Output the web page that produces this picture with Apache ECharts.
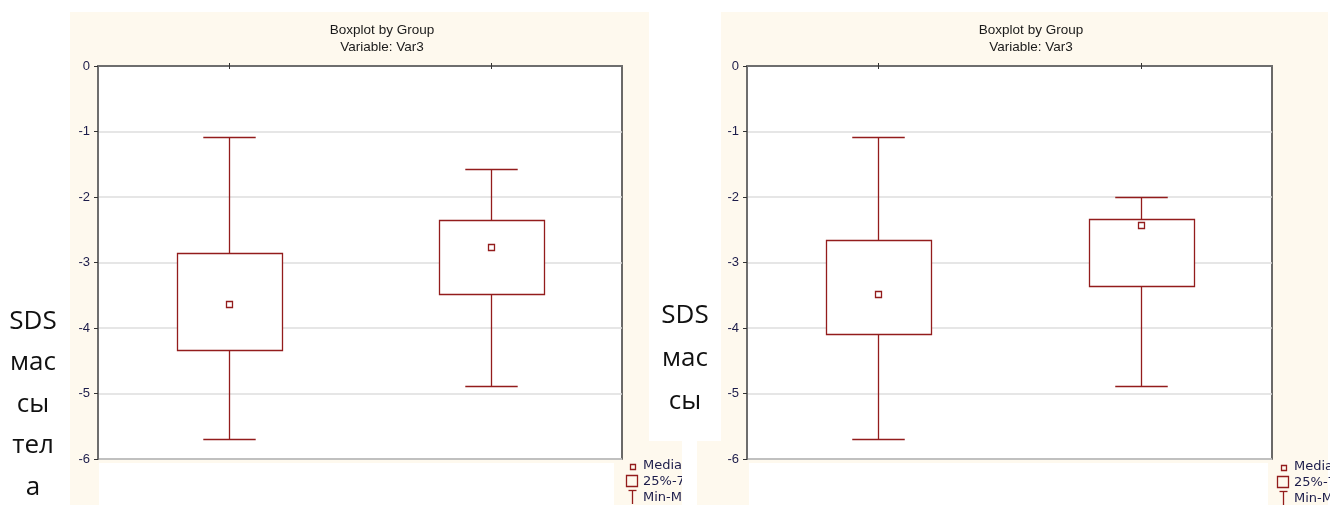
<!DOCTYPE html>
<html>
<head>
<meta charset="utf-8">
<script src="https://cdn.jsdelivr.net/npm/echarts@6/dist/echarts.min.js"></script>
<style>
  html, body { margin: 0; padding: 0; background: #ffffff; }
  #chart { width: 1330px; height: 505px; }
</style>
</head>
<body>
<div id="chart"></div>
<script>
// Groups on the x axis
const categories = ['1', '2'];

// Left panel: min, 25%, median, 75%, max per group
const leftMin = [-5.69, -4.89];
const leftQ1  = [-4.33, -3.48];
const leftMed = [-3.64, -2.77];
const leftQ3  = [-2.85, -2.35];
const leftMax = [-1.09, -1.57];

// Right panel: min, 25%, median, 75%, max per group
const rightMin = [-5.69, -4.89];
const rightQ1  = [-4.08, -3.35];
const rightMed = [-3.48, -2.42];
const rightQ3  = [-2.65, -2.33];
const rightMax = [-1.09, -2.00];

// Y axis ticks
const yTicks = [0, -1, -2, -3, -4, -5, -6];

const titleLines = ['Boxplot by Group', 'Variable: Var3'];
const legendLabels = ['Median', '25%-75%', 'Min-Max'];
const leftSideLabel = ['SDS', 'мас', 'сы', 'тел', 'а'];
const rightSideLabel = ['SDS', 'мас', 'сы'];

const RED = '#931c1c';
const CREAM = '#fef9ee';
const INK = '#1c1c4a';

function rows(mins, q1s, meds, q3s, maxs) {
  return categories.map((c, i) => [i, mins[i], q1s[i], meds[i], q3s[i], maxs[i]]);
}

// Box, whiskers with short caps, and a small square for the median
function renderBox(params, api) {
  const x = api.value(0);
  const pMin = api.coord([x, api.value(1)]);
  const pQ1 = api.coord([x, api.value(2)]);
  const pMed = api.coord([x, api.value(3)]);
  const pQ3 = api.coord([x, api.value(4)]);
  const pMax = api.coord([x, api.value(5)]);
  const band = api.size([1, 0])[0];
  const bw = band * 0.4;
  const cw = band * 0.2;
  const cx = Math.round(pMed[0]) + 0.5;
  const st = { stroke: RED, lineWidth: 1.3, fill: null };
  const r = v => Math.round(v) + 0.5;
  return {
    type: 'group',
    children: [
      { type: 'line', shape: { x1: cx, y1: r(pQ3[1]), x2: cx, y2: r(pMax[1]) }, style: st },
      { type: 'line', shape: { x1: cx - cw / 2, y1: r(pMax[1]), x2: cx + cw / 2, y2: r(pMax[1]) }, style: st },
      { type: 'line', shape: { x1: cx, y1: r(pQ1[1]), x2: cx, y2: r(pMin[1]) }, style: st },
      { type: 'line', shape: { x1: cx - cw / 2, y1: r(pMin[1]), x2: cx + cw / 2, y2: r(pMin[1]) }, style: st },
      { type: 'rect', shape: { x: r(cx - bw / 2), y: r(pQ3[1]), width: Math.round(bw), height: Math.round(pQ1[1] - pQ3[1]) },
        style: { stroke: RED, lineWidth: 1.3, fill: '#ffffff' } },
      { type: 'rect', shape: { x: cx - 3, y: r(pMed[1]) - 3, width: 6, height: 6 },
        style: { stroke: RED, lineWidth: 1.3, fill: '#ffffff' } }
    ]
  };
}

function xAxes(gridIndex) {
  const common = {
    type: 'category', data: categories, gridIndex: gridIndex, boundaryGap: true,
    axisLabel: { show: false },
    axisTick: { show: true, inside: true, length: 3, alignWithLabel: true, lineStyle: { color: '#333', width: 1 } },
    splitLine: { show: false }
  };
  return [
    Object.assign({}, common, { position: 'bottom', axisLine: { show: true, lineStyle: { color: '#6e6e6e', width: 2 } } }),
    Object.assign({}, common, { position: 'top', axisLine: { show: true, lineStyle: { color: '#6e6e6e', width: 2 } } })
  ];
}

function yAxis(gridIndex) {
  return {
    type: 'value', gridIndex: gridIndex,
    min: yTicks[yTicks.length - 1], max: yTicks[0], interval: 1,
    axisLine: { show: true, lineStyle: { color: '#6e6e6e', width: 2 } },
    axisTick: { show: true, inside: false, length: 4, lineStyle: { color: '#333' } },
    axisLabel: { color: INK, fontFamily: 'Liberation Sans', fontSize: 13, margin: 8 },
    splitLine: { show: true, lineStyle: { color: '#dedede', width: 1.5 } }
  };
}

function legendGroup(x, y, z) {
  const st = { stroke: RED, lineWidth: 1.3, fill: null };
  const ts = { fill: INK, font: '13px "DejaVu Sans"', textVerticalAlign: 'middle' };
  return [
    { type: 'rect', z: z, shape: { x: x + 2.5, y: y + 2.5, width: 5, height: 5 }, style: st },
    { type: 'rect', z: z, shape: { x: x - 1.5, y: y + 13.5, width: 11, height: 11 }, style: st },
    { type: 'line', z: z, shape: { x1: x + 4.5, y1: y + 28, x2: x + 4.5, y2: y + 42 }, style: st },
    { type: 'line', z: z, shape: { x1: x + 0.5, y1: y + 28.5, x2: x + 8.5, y2: y + 28.5 }, style: st },
    { type: 'text', z: z, x: x + 15, y: y + 4, style: Object.assign({ text: legendLabels[0] }, ts) },
    { type: 'text', z: z, x: x + 15, y: y + 20, style: Object.assign({ text: legendLabels[1] }, ts) },
    { type: 'text', z: z, x: x + 15, y: y + 36, style: Object.assign({ text: legendLabels[2] }, ts) }
  ];
}

const titleStyle = { fill: '#1a1a1a', font: '13.5px "Liberation Sans"', textAlign: 'center', textVerticalAlign: 'middle' };
const sideStyle = { fill: '#111111', font: '26px "Open Sans"', textAlign: 'center', textVerticalAlign: 'top' };

const graphic = [
  // panel backgrounds
  { type: 'rect', z: -100, shape: { x: 70, y: 12, width: 579, height: 493 }, style: { fill: CREAM } },
  { type: 'rect', z: -100, shape: { x: 614, y: 440, width: 68, height: 65 }, style: { fill: CREAM } },
  { type: 'rect', z: -99, shape: { x: 99, y: 463, width: 515, height: 42 }, style: { fill: '#ffffff' } }
].concat(legendGroup(628, 462, -98)).concat([
  { type: 'rect', z: -97, shape: { x: 697, y: 12, width: 631, height: 493 }, style: { fill: CREAM } },
  { type: 'rect', z: -96, shape: { x: 649, y: 0, width: 72, height: 441 }, style: { fill: '#ffffff' } },
  { type: 'rect', z: -96, shape: { x: 682, y: 440, width: 15, height: 65 }, style: { fill: '#ffffff' } },
  { type: 'rect', z: -95, shape: { x: 749, y: 463, width: 519, height: 42 }, style: { fill: '#ffffff' } }
]).concat(legendGroup(1279, 463, -94)).concat([
  { type: 'text', z: 5, x: 382, y: 30, style: Object.assign({ text: titleLines[0] }, titleStyle) },
  { type: 'text', z: 5, x: 382, y: 47, style: Object.assign({ text: titleLines[1] }, titleStyle) },
  { type: 'text', z: 5, x: 1031, y: 30, style: Object.assign({ text: titleLines[0] }, titleStyle) },
  { type: 'text', z: 5, x: 1031, y: 47, style: Object.assign({ text: titleLines[1] }, titleStyle) },
  { type: 'text', z: 5, x: 33, y: 300.5, style: Object.assign({ text: leftSideLabel.join('\n'), lineHeight: 41.5 }, sideStyle) },
  { type: 'text', z: 5, x: 685, y: 294, style: Object.assign({ text: rightSideLabel.join('\n'), lineHeight: 43 }, sideStyle) }
]);

const chart = echarts.init(document.getElementById('chart'), null, { renderer: 'canvas' });
chart.setOption({
  backgroundColor: '#ffffff',
  animation: false,
  grid: [
    { left: 98, top: 66, width: 524, height: 393, show: true, backgroundColor: '#ffffff', borderColor: '#3a3a3a', borderWidth: 1.5 },
    { left: 747, top: 66, width: 525, height: 393, show: true, backgroundColor: '#ffffff', borderColor: '#3a3a3a', borderWidth: 1.5 }
  ],
  xAxis: xAxes(0).concat(xAxes(1)),
  yAxis: [yAxis(0), yAxis(1)],
  graphic: graphic,
  series: [
    { type: 'custom', xAxisIndex: 0, yAxisIndex: 0, renderItem: renderBox,
      encode: { x: 0, y: [1, 2, 3, 4, 5] }, data: rows(leftMin, leftQ1, leftMed, leftQ3, leftMax) },
    { type: 'custom', xAxisIndex: 2, yAxisIndex: 1, renderItem: renderBox,
      encode: { x: 0, y: [1, 2, 3, 4, 5] }, data: rows(rightMin, rightQ1, rightMed, rightQ3, rightMax) }
  ]
});
</script>
</body>
</html>
